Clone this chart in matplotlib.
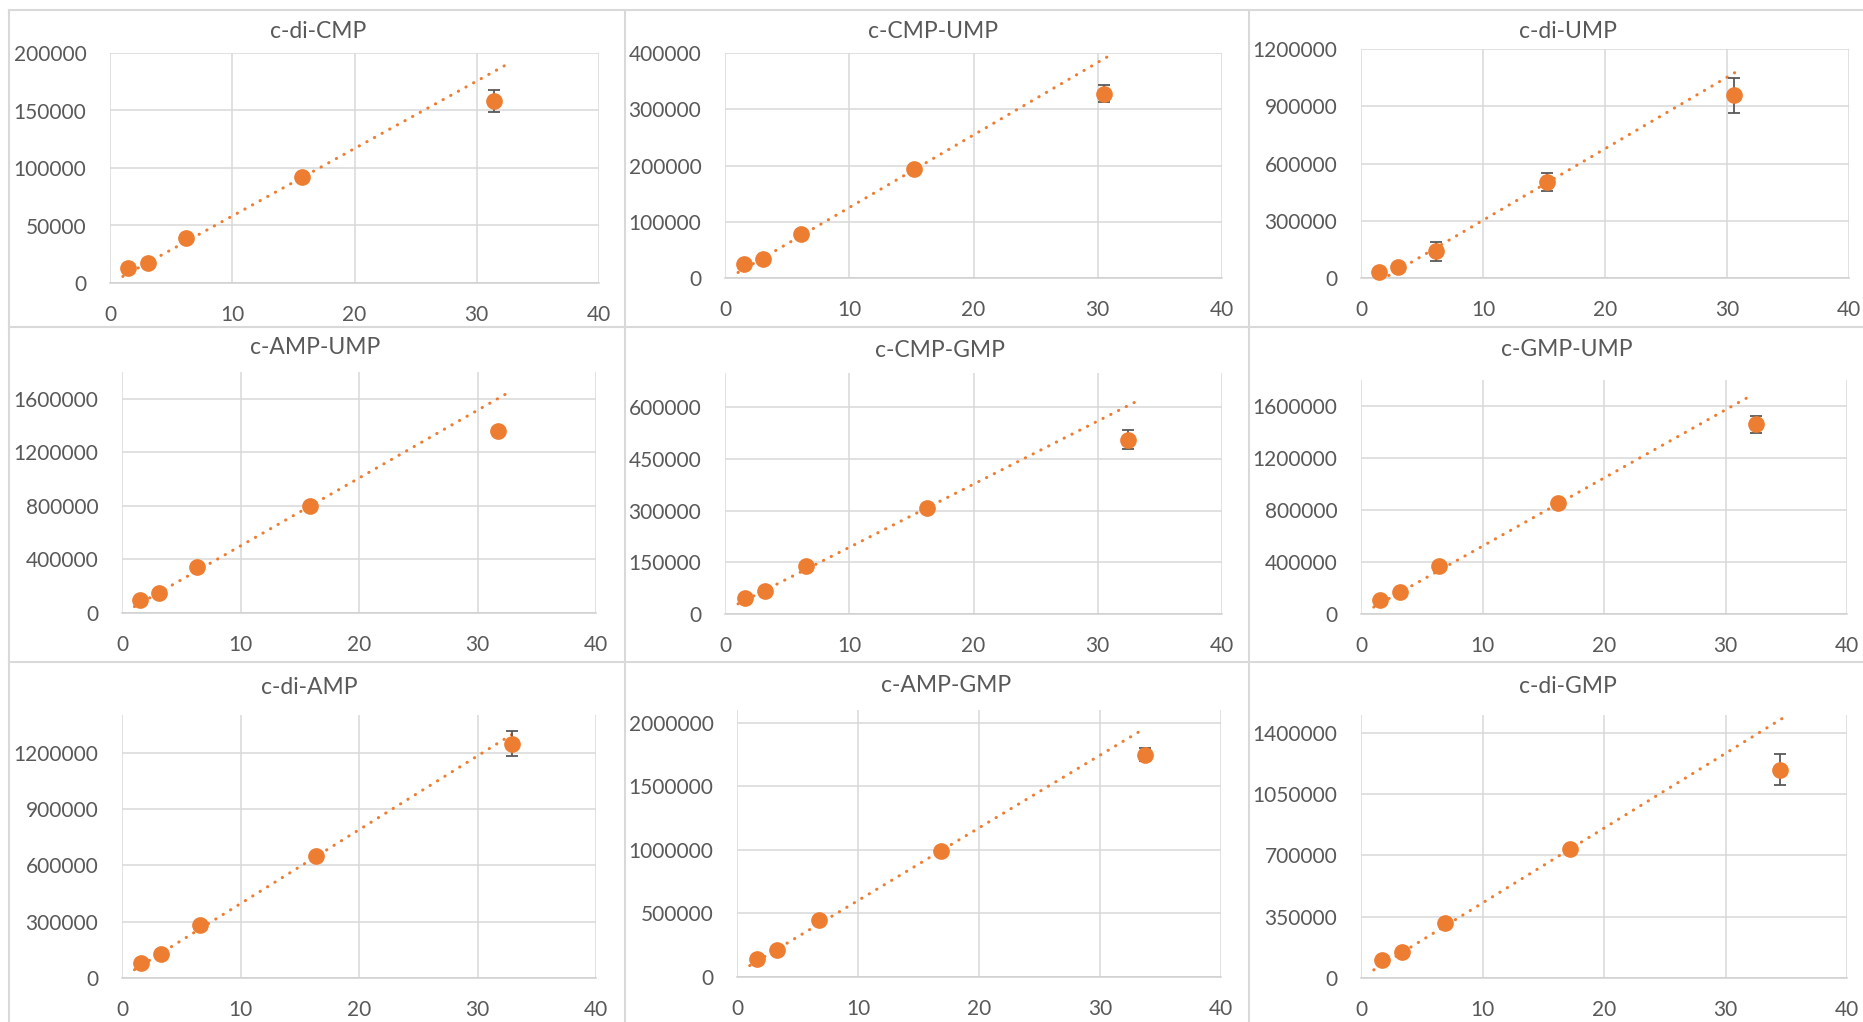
import numpy as np
import matplotlib.pyplot as plt
from matplotlib.lines import Line2D
from matplotlib.ticker import StrMethodFormatter

plt.rcParams['font.family'] = ['Lato', 'DejaVu Sans']

# calibration data, one panel per cyclic dinucleotide
names = ['c-di-CMP', 'c-CMP-UMP', 'c-di-UMP',
         'c-AMP-UMP', 'c-CMP-GMP', 'c-GMP-UMP',
         'c-di-AMP', 'c-AMP-GMP', 'c-di-GMP']

conc = [
    [1.47, 3.09, 6.25, 15.7, 31.4],
    [1.51, 3.02, 6.09, 15.24, 30.47],
    [1.49, 3.00, 6.11, 15.28, 30.6],
    [1.51, 3.13, 6.29, 15.83, 31.7],
    [1.60, 3.21, 6.48, 16.23, 32.46],
    [1.56, 3.24, 6.46, 16.25, 32.54],
    [1.61, 3.26, 6.55, 16.40, 32.87],
    [1.65, 3.33, 6.75, 16.82, 33.74],
    [1.69, 3.41, 6.88, 17.23, 34.48],
]

signal = [
    [13000, 17400, 38700, 92400, 157900],
    [24400, 33900, 79000, 193200, 327500],
    [29700, 55900, 139700, 503000, 957000],
    [94000, 149000, 340000, 799000, 1357000],
    [47200, 65500, 140600, 307200, 506600],
    [110000, 169000, 368600, 855000, 1459000],
    [80000, 129600, 284000, 648000, 1248000],
    [143800, 214400, 444400, 993500, 1749000],
    [100800, 146500, 315800, 738000, 1189000],
]

signal_err = [
    [0, 0, 0, 0, 9500],
    [0, 0, 0, 0, 15000],
    [0, 0, 48000, 49000, 92000],
    [0, 0, 0, 0, 0],
    [0, 0, 0, 0, 28000],
    [0, 0, 0, 0, 64000],
    [0, 0, 0, 0, 65000],
    [0, 0, 0, 0, 50000],
    [0, 0, 0, 0, 91000],
]

# linear trendlines as drawn on the chart
trend_slope = [5869, 12900, 37476, 50662, 18340, 52403, 39319, 57159, 42659]
trend_icpt = [-466, -3777, -72250, -5520, 10200, -1830, 2710, 29710, 1410]
trend_start = 1.05
trend_end = [32.57, 31.02, 30.92, 32.67, 33.26, 32.18, 33.34, 33.51, 34.97]

y_max = [200000, 400000, 1200000, 1800000, 700000, 1800000, 1400000, 2100000, 1500000]
y_step = [50000, 100000, 300000, 400000, 150000, 400000, 300000, 500000, 350000]

W, H = 1863, 1022
# plot areas in pixels: left, top, right, bottom
boxes = [
    (110, 53, 599, 283), (725, 53, 1222, 278), (1361, 49, 1849, 278),
    (122, 372, 596, 613), (725, 373, 1222, 614), (1361, 380, 1847, 614),
    (122, 715, 596, 978), (737, 710, 1221, 977), (1361, 715, 1847, 978),
]
title_pos = [(318, 32), (933, 32), (1568, 32),
             (315, 348), (940, 350), (1567, 349),
             (309, 687), (946, 685), (1568, 686)]

orange = '#ED7D31'
grey_txt = '#595959'
grid_c = '#D9D9D9'

fig = plt.figure(figsize=(W / 100, H / 100), dpi=100)

# chart borders
for xb in [9, 625, 1249]:
    fig.add_artist(Line2D([xb / W, xb / W], [0, 1 - 10 / H], color=grid_c, lw=1.5))
for yb in [10, 327, 662]:
    fig.add_artist(Line2D([9 / W, 1], [1 - yb / H, 1 - yb / H], color=grid_c, lw=1.5))

for i, name in enumerate(names):
    l, t, r, b = boxes[i]
    ax = fig.add_axes([l / W, 1 - b / H, (r - l) / W, (b - t) / H])
    x = np.array(conc[i])
    y = np.array(signal[i])
    e = np.array(signal_err[i])

    xs = np.array([trend_start, trend_end[i]])
    ax.plot(xs, trend_slope[i] * xs + trend_icpt[i], color=orange, lw=2.2,
            linestyle=(0, (0.1, 2.75)), dash_capstyle='round', zorder=2)

    m = e > 0
    if m.any():
        ax.errorbar(x[m], y[m], yerr=e[m], fmt='none', ecolor=grey_txt,
                    elinewidth=1.3, capsize=4.5, capthick=1.3, zorder=3)
    ax.plot(x, y, 'o', ms=11, color=orange, zorder=4, clip_on=False)

    ax.set_xlim(0, 40)
    ax.set_xticks(np.arange(0, 41, 10))
    ax.set_ylim(0, y_max[i])
    ax.set_yticks(np.arange(0, y_max[i] + 1, y_step[i]))
    ax.yaxis.set_major_formatter(StrMethodFormatter('{x:.0f}'))
    ax.grid(True, color=grid_c, lw=1.1)
    ax.set_axisbelow(True)
    for s in ['top', 'right', 'left']:
        ax.spines[s].set_visible(False)
    ax.spines['bottom'].set_color('#CFCFCF')
    ax.spines['bottom'].set_linewidth(1.1)
    ax.tick_params(length=0, labelsize=15, labelcolor=grey_txt)
    ax.tick_params(axis='x', pad=16)
    ax.tick_params(axis='y', pad=17)

    tx, ty = title_pos[i]
    fig.text(tx / W, 1 - ty / H, name, ha='center', va='center',
             fontsize=16.5, color=grey_txt)

fig.savefig('out.png', dpi=100)
